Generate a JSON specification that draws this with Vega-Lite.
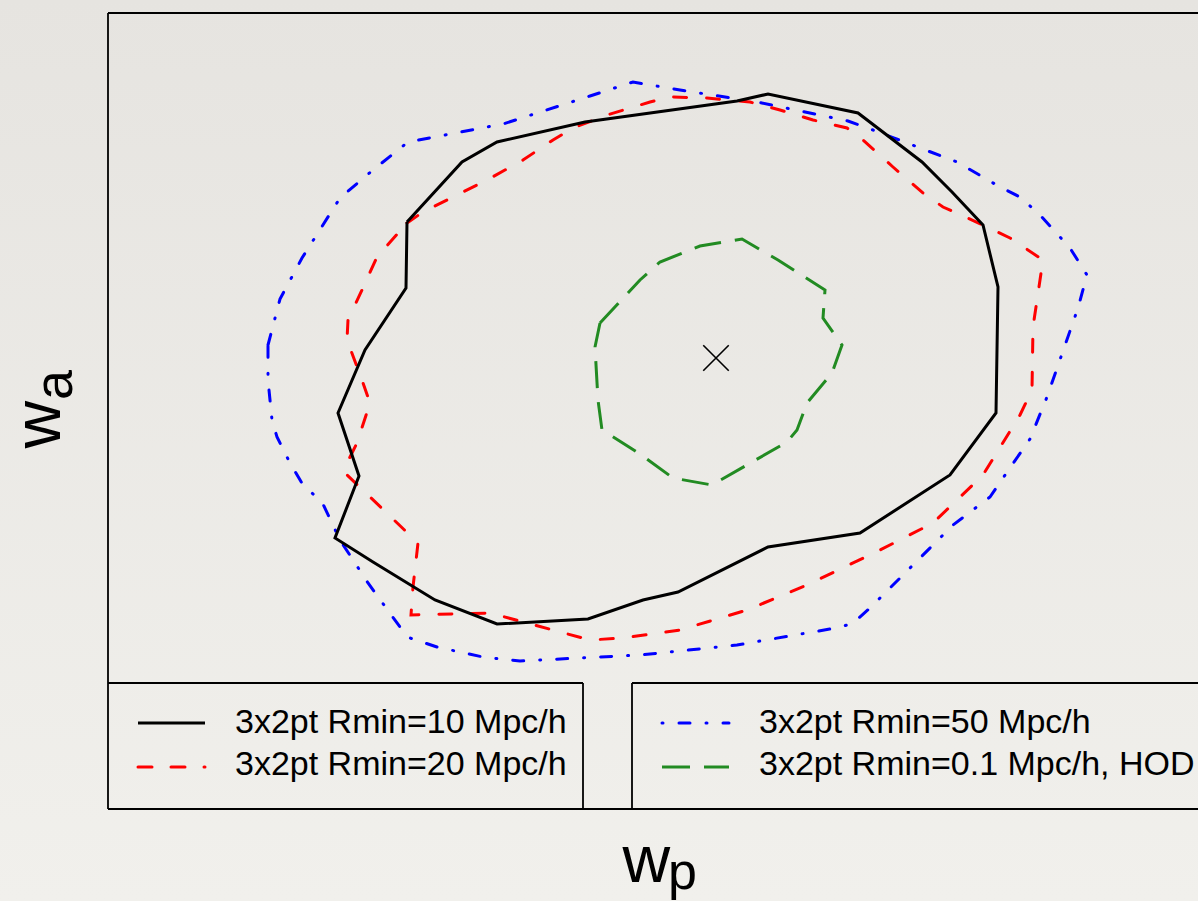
{
  "$schema": "https://vega.github.io/schema/vega-lite/v6.json",
  "width": 1090,
  "height": 796,
  "autosize": {"type": "none"},
  "padding": {"left": 108, "top": 13, "right": 0, "bottom": 92},
  "background": "#eae8e4",
  "config": {"view": {"stroke": null}, "font": "Liberation Sans"},
  "datasets": {
    "paper": [
      {"x": -108, "x2": 1090, "y": -92, "y2": 809}
    ],
    "frame": [
      {"x": 0, "x2": 1090, "y": 796, "y2": 796},
      {"x": 0, "x2": 0, "y": 0, "y2": 796},
      {"x": 0, "x2": 1090, "y": 0, "y2": 0},
      {"x": 0, "x2": 475, "y": 126, "y2": 126},
      {"x": 475, "x2": 475, "y": 0, "y2": 126},
      {"x": 524, "x2": 524, "y": 0, "y2": 126},
      {"x": 524, "x2": 1090, "y": 126, "y2": 126}
    ],
    "contours": [
      {"s": "R10", "i": 0, "x": 299, "y": 587},
      {"s": "R10", "i": 1, "x": 354, "y": 647},
      {"s": "R10", "i": 2, "x": 389, "y": 667},
      {"s": "R10", "i": 3, "x": 477, "y": 687},
      {"s": "R10", "i": 4, "x": 629, "y": 708},
      {"s": "R10", "i": 5, "x": 660, "y": 715},
      {"s": "R10", "i": 6, "x": 750, "y": 696},
      {"s": "R10", "i": 7, "x": 814, "y": 647},
      {"s": "R10", "i": 8, "x": 844, "y": 617},
      {"s": "R10", "i": 9, "x": 875, "y": 584},
      {"s": "R10", "i": 10, "x": 890, "y": 522},
      {"s": "R10", "i": 11, "x": 888, "y": 396},
      {"s": "R10", "i": 12, "x": 842, "y": 334},
      {"s": "R10", "i": 13, "x": 752, "y": 276},
      {"s": "R10", "i": 14, "x": 660, "y": 262},
      {"s": "R10", "i": 15, "x": 570, "y": 217},
      {"s": "R10", "i": 16, "x": 535, "y": 209},
      {"s": "R10", "i": 17, "x": 480, "y": 190},
      {"s": "R10", "i": 18, "x": 389, "y": 185},
      {"s": "R10", "i": 19, "x": 327, "y": 209},
      {"s": "R10", "i": 20, "x": 265, "y": 247},
      {"s": "R10", "i": 21, "x": 227, "y": 271},
      {"s": "R10", "i": 22, "x": 251, "y": 333},
      {"s": "R10", "i": 23, "x": 230, "y": 396},
      {"s": "R10", "i": 24, "x": 257, "y": 459},
      {"s": "R10", "i": 25, "x": 298, "y": 521},
      {"s": "R10", "i": 26, "x": 299, "y": 587},

      {"s": "R20", "i": 0, "x": 299, "y": 586},
      {"s": "R20", "i": 1, "x": 315, "y": 597},
      {"s": "R20", "i": 2, "x": 345, "y": 612},
      {"s": "R20", "i": 3, "x": 379, "y": 629},
      {"s": "R20", "i": 4, "x": 415, "y": 649},
      {"s": "R20", "i": 5, "x": 445, "y": 669},
      {"s": "R20", "i": 6, "x": 465, "y": 681},
      {"s": "R20", "i": 7, "x": 499, "y": 694},
      {"s": "R20", "i": 8, "x": 542, "y": 707},
      {"s": "R20", "i": 9, "x": 564, "y": 712},
      {"s": "R20", "i": 10, "x": 599, "y": 711},
      {"s": "R20", "i": 11, "x": 642, "y": 707},
      {"s": "R20", "i": 12, "x": 672, "y": 699},
      {"s": "R20", "i": 13, "x": 705, "y": 689},
      {"s": "R20", "i": 14, "x": 739, "y": 681},
      {"s": "R20", "i": 15, "x": 755, "y": 669},
      {"s": "R20", "i": 16, "x": 785, "y": 642},
      {"s": "R20", "i": 17, "x": 815, "y": 616},
      {"s": "R20", "i": 18, "x": 835, "y": 602},
      {"s": "R20", "i": 19, "x": 875, "y": 584},
      {"s": "R20", "i": 20, "x": 902, "y": 571},
      {"s": "R20", "i": 21, "x": 935, "y": 549},
      {"s": "R20", "i": 22, "x": 932, "y": 529},
      {"s": "R20", "i": 23, "x": 925, "y": 482},
      {"s": "R20", "i": 24, "x": 924, "y": 419},
      {"s": "R20", "i": 25, "x": 912, "y": 394},
      {"s": "R20", "i": 26, "x": 875, "y": 334},
      {"s": "R20", "i": 27, "x": 825, "y": 286},
      {"s": "R20", "i": 28, "x": 772, "y": 259},
      {"s": "R20", "i": 29, "x": 699, "y": 224},
      {"s": "R20", "i": 30, "x": 639, "y": 199},
      {"s": "R20", "i": 31, "x": 572, "y": 179},
      {"s": "R20", "i": 32, "x": 515, "y": 171},
      {"s": "R20", "i": 33, "x": 482, "y": 169},
      {"s": "R20", "i": 34, "x": 419, "y": 186},
      {"s": "R20", "i": 35, "x": 382, "y": 196},
      {"s": "R20", "i": 36, "x": 303, "y": 194},
      {"s": "R20", "i": 37, "x": 305, "y": 222},
      {"s": "R20", "i": 38, "x": 310, "y": 266},
      {"s": "R20", "i": 39, "x": 237, "y": 336},
      {"s": "R20", "i": 40, "x": 237, "y": 342},
      {"s": "R20", "i": 41, "x": 249, "y": 366},
      {"s": "R20", "i": 42, "x": 262, "y": 406},
      {"s": "R20", "i": 43, "x": 254, "y": 429},
      {"s": "R20", "i": 44, "x": 239, "y": 469},
      {"s": "R20", "i": 45, "x": 240, "y": 489},
      {"s": "R20", "i": 46, "x": 254, "y": 519},
      {"s": "R20", "i": 47, "x": 269, "y": 552},
      {"s": "R20", "i": 48, "x": 299, "y": 586},

      {"s": "R50", "i": 0, "x": 160, "y": 464},
      {"s": "R50", "i": 1, "x": 172, "y": 510},
      {"s": "R50", "i": 2, "x": 194, "y": 551},
      {"s": "R50", "i": 3, "x": 232, "y": 611},
      {"s": "R50", "i": 4, "x": 265, "y": 639},
      {"s": "R50", "i": 5, "x": 300, "y": 667},
      {"s": "R50", "i": 6, "x": 395, "y": 685},
      {"s": "R50", "i": 7, "x": 482, "y": 713},
      {"s": "R50", "i": 8, "x": 525, "y": 727},
      {"s": "R50", "i": 9, "x": 572, "y": 719},
      {"s": "R50", "i": 10, "x": 649, "y": 707},
      {"s": "R50", "i": 11, "x": 740, "y": 688},
      {"s": "R50", "i": 12, "x": 765, "y": 679},
      {"s": "R50", "i": 13, "x": 849, "y": 647},
      {"s": "R50", "i": 14, "x": 892, "y": 622},
      {"s": "R50", "i": 15, "x": 912, "y": 612},
      {"s": "R50", "i": 16, "x": 932, "y": 594},
      {"s": "R50", "i": 17, "x": 962, "y": 561},
      {"s": "R50", "i": 18, "x": 979, "y": 534},
      {"s": "R50", "i": 19, "x": 970, "y": 501},
      {"s": "R50", "i": 20, "x": 939, "y": 412},
      {"s": "R50", "i": 21, "x": 922, "y": 370},
      {"s": "R50", "i": 22, "x": 895, "y": 331},
      {"s": "R50", "i": 23, "x": 882, "y": 312},
      {"s": "R50", "i": 24, "x": 845, "y": 284},
      {"s": "R50", "i": 25, "x": 795, "y": 234},
      {"s": "R50", "i": 26, "x": 762, "y": 201},
      {"s": "R50", "i": 27, "x": 744, "y": 185},
      {"s": "R50", "i": 28, "x": 722, "y": 180},
      {"s": "R50", "i": 29, "x": 629, "y": 164},
      {"s": "R50", "i": 30, "x": 532, "y": 154},
      {"s": "R50", "i": 31, "x": 412, "y": 148},
      {"s": "R50", "i": 32, "x": 375, "y": 152},
      {"s": "R50", "i": 33, "x": 329, "y": 162},
      {"s": "R50", "i": 34, "x": 302, "y": 171},
      {"s": "R50", "i": 35, "x": 292, "y": 182},
      {"s": "R50", "i": 36, "x": 260, "y": 226},
      {"s": "R50", "i": 37, "x": 232, "y": 269},
      {"s": "R50", "i": 38, "x": 214, "y": 307},
      {"s": "R50", "i": 39, "x": 195, "y": 324},
      {"s": "R50", "i": 40, "x": 182, "y": 346},
      {"s": "R50", "i": 41, "x": 169, "y": 372},
      {"s": "R50", "i": 42, "x": 164, "y": 389},
      {"s": "R50", "i": 43, "x": 160, "y": 429},
      {"s": "R50", "i": 44, "x": 160, "y": 464},

      {"s": "HOD", "i": 0, "x": 492, "y": 486},
      {"s": "HOD", "i": 1, "x": 532, "y": 529},
      {"s": "HOD", "i": 2, "x": 552, "y": 547},
      {"s": "HOD", "i": 3, "x": 592, "y": 563},
      {"s": "HOD", "i": 4, "x": 634, "y": 570},
      {"s": "HOD", "i": 5, "x": 670, "y": 549},
      {"s": "HOD", "i": 6, "x": 717, "y": 519},
      {"s": "HOD", "i": 7, "x": 715, "y": 491},
      {"s": "HOD", "i": 8, "x": 734, "y": 464},
      {"s": "HOD", "i": 9, "x": 724, "y": 436},
      {"s": "HOD", "i": 10, "x": 699, "y": 406},
      {"s": "HOD", "i": 11, "x": 689, "y": 379},
      {"s": "HOD", "i": 12, "x": 679, "y": 367},
      {"s": "HOD", "i": 13, "x": 604, "y": 324},
      {"s": "HOD", "i": 14, "x": 565, "y": 331},
      {"s": "HOD", "i": 15, "x": 532, "y": 355},
      {"s": "HOD", "i": 16, "x": 494, "y": 379},
      {"s": "HOD", "i": 17, "x": 490, "y": 409},
      {"s": "HOD", "i": 18, "x": 487, "y": 462},
      {"s": "HOD", "i": 19, "x": 492, "y": 486}
    ],
    "keys": [
      {"s": "R10", "i": 0, "x": 30, "y": 86},
      {"s": "R10", "i": 1, "x": 97, "y": 86},
      {"s": "R20", "i": 0, "x": 30, "y": 42},
      {"s": "R20", "i": 1, "x": 97, "y": 42},
      {"s": "R50", "i": 0, "x": 554, "y": 86},
      {"s": "R50", "i": 1, "x": 621, "y": 86},
      {"s": "HOD", "i": 0, "x": 554, "y": 42},
      {"s": "HOD", "i": 1, "x": 621, "y": 42}
    ],
    "labels": [
      {"t": "3x2pt Rmin=10 Mpc/h", "x": 127, "y": 76},
      {"t": "3x2pt Rmin=20 Mpc/h", "x": 127, "y": 34},
      {"t": "3x2pt Rmin=50 Mpc/h", "x": 651, "y": 76},
      {"t": "3x2pt Rmin=0.1 Mpc/h, HOD", "x": 651, "y": 34}
    ]
  },
  "encoding": {
    "x": {"field": "x", "type": "quantitative", "scale": {"domain": [0, 1090], "nice": false, "zero": false}, "axis": null},
    "y": {"field": "y", "type": "quantitative", "scale": {"domain": [0, 796], "nice": false, "zero": false}, "axis": null}
  },
  "layer": [
    {
      "data": {"name": "paper"},
      "mark": {
        "type": "rect",
        "color": {
          "gradient": "linear",
          "x1": 0, "y1": 0, "x2": 0, "y2": 1,
          "stops": [
            {"offset": 0, "color": "#e6e4e0"},
            {"offset": 1, "color": "#f1f0ec"}
          ]
        }
      },
      "encoding": {"x2": {"field": "x2"}, "y2": {"field": "y2"}}
    },
    {
      "data": {"name": "frame"},
      "mark": {"type": "rule", "color": "#000000", "strokeWidth": 1.8},
      "encoding": {"x2": {"field": "x2"}, "y2": {"field": "y2"}}
    },
    {
      "data": {"name": "contours"},
      "transform": [{"filter": "datum.s === 'R50'"}],
      "mark": {"type": "line", "color": "#0000ff", "strokeWidth": 3, "strokeCap": "round", "strokeDash": [11, 16, 1, 16]},
      "encoding": {"order": {"field": "i", "type": "quantitative"}}
    },
    {
      "data": {"name": "contours"},
      "transform": [{"filter": "datum.s === 'R20'"}],
      "mark": {"type": "line", "color": "#ff0000", "strokeWidth": 3, "strokeCap": "round", "strokeDash": [13, 20]},
      "encoding": {"order": {"field": "i", "type": "quantitative"}}
    },
    {
      "data": {"name": "contours"},
      "transform": [{"filter": "datum.s === 'HOD'"}],
      "mark": {"type": "line", "color": "#228b22", "strokeWidth": 3, "strokeCap": "butt", "strokeDash": [27, 14]},
      "encoding": {"order": {"field": "i", "type": "quantitative"}}
    },
    {
      "data": {"name": "contours"},
      "transform": [{"filter": "datum.s === 'R10'"}],
      "mark": {"type": "line", "color": "#000000", "strokeWidth": 3, "strokeJoin": "miter"},
      "encoding": {"order": {"field": "i", "type": "quantitative"}}
    },
    {
      "data": {"name": "keys"},
      "transform": [{"filter": "datum.s === 'R10'"}],
      "mark": {"type": "line", "color": "#000000", "strokeWidth": 3},
      "encoding": {"order": {"field": "i", "type": "quantitative"}}
    },
    {
      "data": {"name": "keys"},
      "transform": [{"filter": "datum.s === 'R20'"}],
      "mark": {"type": "line", "color": "#ff0000", "strokeWidth": 3, "strokeCap": "round", "strokeDash": [14, 19]},
      "encoding": {"order": {"field": "i", "type": "quantitative"}}
    },
    {
      "data": {"name": "keys"},
      "transform": [{"filter": "datum.s === 'R50'"}],
      "mark": {"type": "line", "color": "#0000ff", "strokeWidth": 3, "strokeCap": "round", "strokeDash": [11, 16, 1, 16], "strokeDashOffset": 27},
      "encoding": {"order": {"field": "i", "type": "quantitative"}}
    },
    {
      "data": {"name": "keys"},
      "transform": [{"filter": "datum.s === 'HOD'"}],
      "mark": {"type": "line", "color": "#228b22", "strokeWidth": 3, "strokeCap": "butt", "strokeDash": [28, 14]},
      "encoding": {"order": {"field": "i", "type": "quantitative"}}
    },
    {
      "data": {"values": [{"x": 608, "y": 451}]},
      "mark": {"type": "point", "shape": "M-1,-1L1,1M1,-1L-1,1", "filled": false, "stroke": "#000000", "strokeWidth": 1.6, "size": 650, "opacity": 1}
    },
    {
      "data": {"name": "labels"},
      "mark": {"type": "text", "align": "left", "baseline": "alphabetic", "fontSize": 34, "color": "#000000"},
      "encoding": {"text": {"field": "t"}}
    },
    {
      "data": {"values": [{"t": "w", "x": 514.5, "y": -73}]},
      "mark": {"type": "text", "align": "left", "baseline": "alphabetic", "fontSize": 66, "color": "#000000"},
      "encoding": {"text": {"field": "t"}}
    },
    {
      "data": {"values": [{"t": "p", "x": 560, "y": -80}]},
      "mark": {"type": "text", "align": "left", "baseline": "alphabetic", "fontSize": 52, "color": "#000000"},
      "encoding": {"text": {"field": "t"}}
    },
    {
      "data": {"values": [{"t": "w", "x": -48, "y": 360.5}]},
      "mark": {"type": "text", "align": "left", "baseline": "alphabetic", "fontSize": 66, "angle": 270, "color": "#000000"},
      "encoding": {"text": {"field": "t"}}
    },
    {
      "data": {"values": [{"t": "a", "x": -36, "y": 409}]},
      "mark": {"type": "text", "align": "left", "baseline": "alphabetic", "fontSize": 54, "angle": 270, "color": "#000000"},
      "encoding": {"text": {"field": "t"}}
    }
  ]
}
